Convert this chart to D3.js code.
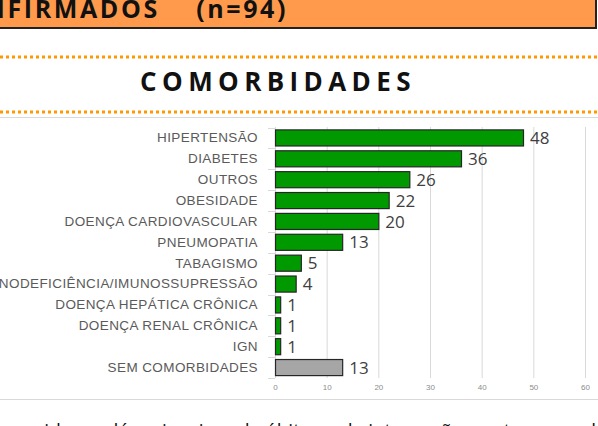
<!DOCTYPE html>
<html lang="pt">
<head>
<meta charset="utf-8">
<title>Comorbidades</title>
<script src="https://d3js.org/d3.v7.min.js"></script>
<style>
  body { margin: 0; background: #fff; }
  svg { display: block; font-family: "Open Sans", sans-serif; }
  .grid line { stroke: #d9d9d9; stroke-width: 1px; }
  .xaxis text { font-size: 8px; fill: #8c8c8c; }
  .yaxis text { font-size: 13.5px; fill: #5a5a5a; letter-spacing: 0.4px; }
  .yaxis line, .yaxis path { stroke: #d9d9d9; }
</style>
</head>
<body>
<div id="chart"></div>
<script>
// data
var categories = ["HIPERTENSÃO", "DIABETES", "OUTROS", "OBESIDADE", "DOENÇA CARDIOVASCULAR",
  "PNEUMOPATIA", "TABAGISMO", "IMUNODEFICIÊNCIA/IMUNOSSUPRESSÃO", "DOENÇA HEPÁTICA CRÔNICA",
  "DOENÇA RENAL CRÔNICA", "IGN", "SEM COMORBIDADES"]
var values = [48, 36, 26, 22, 20, 13, 5, 4, 1, 1, 1, 13]
var xTicks = [0, 10, 20, 30, 40, 50, 60]

var w = 598
var h = 426

var svg = d3.select("#chart")
  .append("svg")
  .attr("width", w)
  .attr("height", h)

// header band (cut at the top)
svg.append("rect")
  .attr("x", -10).attr("y", -10)
  .attr("width", 606).attr("height", 38)
  .attr("fill", "#ff9a4c")
  .attr("stroke", "#222").attr("stroke-width", 2)

svg.append("text")
  .attr("x", 288).attr("y", 17.5)
  .attr("text-anchor", "end")
  .attr("font-size", 25).attr("font-weight", "bold")
  .attr("letter-spacing", 2.6)
  .attr("fill", "#111")
  .text("CASOS CONFIRMADOS\u00a0\u00a0\u00a0\u00a0(n=94)")

// dotted separators
;[57, 112].forEach(function(y) {
  svg.append("line")
    .attr("x1", 0).attr("x2", w)
    .attr("y1", y).attr("y2", y)
    .attr("stroke", "#ff9900")
    .attr("stroke-width", 3)
    .attr("stroke-dasharray", "3,3")
})

svg.append("line")
  .attr("x1", 0).attr("x2", w).attr("y1", 117.5).attr("y2", 117.5)
  .attr("stroke", "#d9d9d9")
svg.append("line")
  .attr("x1", 0).attr("x2", w).attr("y1", 399.5).attr("y2", 399.5)
  .attr("stroke", "#d9d9d9")

svg.append("text")
  .attr("x", 278).attr("y", 91)
  .attr("text-anchor", "middle")
  .attr("font-size", 26).attr("font-weight", "bold")
  .attr("letter-spacing", 5.4)
  .attr("fill", "#111")
  .text("COMORBIDADES")

// scales
var xScale = d3.scaleLinear()
  .domain([0, 60])
  .range([275, 585])

var yScale = d3.scaleBand()
  .domain(categories)
  .range([127.5, 378])
  .paddingInner(0.23)
  .paddingOuter(0.115)

// vertical gridlines
svg.append("g")
  .attr("class", "grid")
  .selectAll("line")
  .data(xTicks.slice(1))
  .enter()
  .append("line")
  .attr("x1", function(d) { return xScale(d) + 0.5 })
  .attr("x2", function(d) { return xScale(d) + 0.5 })
  .attr("y1", 127)
  .attr("y2", 378)

// x axis labels only
var xAxis = d3.axisBottom(xScale).tickValues(xTicks).tickSize(0).tickPadding(6)
svg.append("g")
  .attr("class", "xaxis")
  .attr("transform", "translate(0,378)")
  .call(xAxis)
  .call(function(g) { g.select(".domain").remove() })

// y axis
var yAxis = d3.axisLeft(yScale).tickSize(0).tickPadding(17)
var yG = svg.append("g")
  .attr("class", "yaxis")
  .attr("transform", "translate(275,0)")
  .call(yAxis)
yG.select(".domain").attr("d", "M0.5,127V378")

// small ticks between bands
yG.selectAll(".sep")
  .data(d3.range(categories.length + 1))
  .enter()
  .append("line")
  .attr("class", "sep")
  .attr("x1", -7).attr("x2", 0)
  .attr("y1", function(i) { return Math.round(127.5 + i * (250.5 / categories.length)) + 0.5 })
  .attr("y2", function(i) { return Math.round(127.5 + i * (250.5 / categories.length)) + 0.5 })

// bars
svg.selectAll(".bar")
  .data(values)
  .enter()
  .append("rect")
  .attr("class", "bar")
  .attr("x", xScale(0) + 0.5)
  .attr("y", function(d, i) { return yScale(categories[i]) })
  .attr("width", function(d) { return xScale(d) - xScale(0) })
  .attr("height", yScale.bandwidth())
  .attr("fill", function(d, i) { return i == categories.length - 1 ? "#a6a6a6" : "#009900" })
  .attr("stroke", "#262626")
  .attr("stroke-width", 1.2)

// value labels
svg.selectAll(".val")
  .data(values)
  .enter()
  .append("text")
  .attr("class", "val")
  .attr("x", function(d) { return xScale(d) + 7 })
  .attr("y", function(d, i) { return yScale(categories[i]) + yScale.bandwidth() / 2 })
  .attr("dy", "0.36em")
  .attr("font-size", 17)
  .attr("fill", "#404040")
  .text(function(d) { return d })

// text below, cut by the bottom edge
svg.append("text")
  .attr("x", 345).attr("y", 437)
  .attr("text-anchor", "middle")
  .attr("font-size", 19)
  .attr("fill", "#111")
  .text("e idosos dé maior risco de óbitos e de internação por ter comorbidades")
</script>
</body>
</html>
